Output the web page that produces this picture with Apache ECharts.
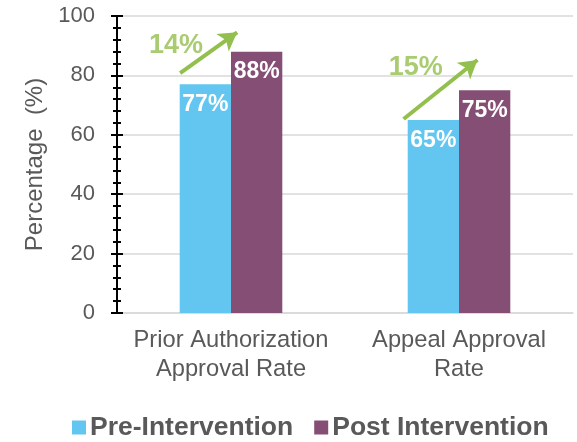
<!DOCTYPE html>
<html>
<head>
<meta charset="utf-8">
<script src="https://cdn.jsdelivr.net/npm/echarts@6/dist/echarts.min.js"></script>
<style>html,body{margin:0;padding:0;background:#fff}#c{width:577px;height:442px}</style>
</head>
<body>
<div id="c"></div>
<script>
var categories = ['Prior Authorization\nApproval Rate', 'Appeal Approval\nRate'];
var preValues = [77, 65];
var postValues = [88, 75];
var seriesNames = ['Pre-Intervention', 'Post Intervention'];
var yTicks = [0, 20, 40, 60, 80, 100];
// change annotations (arrow start/end in [category position, percentage])
var changeLabels = ['14%', '15%'];
var arrowStart = [[0.277, 80.8], [1.257, 65.3]];
var arrowEnd = [[0.527, 94.5], [1.581, 85.2]];
var changeLabelPos = [[0.259, 90.2], [1.31, 82.5]];

var FONT = 'Liberation Sans, Arial, sans-serif';
var GRAY = '#595959';
var GREEN = '#93bf4f';

var chart = echarts.init(document.getElementById('c'), null, {renderer: 'canvas'});
var arrowLines = arrowStart.map(function (s, i) {
  return [{coord: s}, {coord: arrowEnd[i]}];
});
var option = {
  animation: false,
  grid: {left: 117, right: 4, top: 16, bottom: 129, containLabel: false},
  legend: {
    bottom: 1, left: 72, padding: 0,
    itemWidth: 14, itemHeight: 14, itemGap: 21,
    icon: 'rect',
    textStyle: {fontFamily: FONT, fontSize: 26.5, fontWeight: 'bold', color: GRAY, padding: [0, 0, 0, -1]},
    data: seriesNames
  },
  xAxis: [{
    type: 'category', data: categories,
    axisLine: {show: true, lineStyle: {color: '#d9d9d9', width: 1.5}},
    axisTick: {show: false},
    axisLabel: {interval: 0, fontFamily: FONT, fontSize: 23.7, color: GRAY, lineHeight: 29, margin: 13}
  }, {
    type: 'value', min: 0, max: 2, show: false
  }],
  yAxis: [{
    type: 'value', min: 0, max: 100, interval: 20,
    name: 'Percentage  (%)', nameLocation: 'middle', nameGap: 69,
    nameTextStyle: {fontFamily: FONT, fontSize: 24, color: GRAY},
    axisLine: {show: true, lineStyle: {color: '#000', width: 2}},
    axisTick: {show: true, inside: false, length: 6, lineStyle: {color: '#000', width: 2}},
    minorTick: {show: true, splitNumber: 5, length: 4, lineStyle: {color: '#000', width: 2}},
    axisLabel: {fontFamily: FONT, fontSize: 22, color: GRAY, margin: 22},
    splitLine: {show: true, lineStyle: {color: '#d9d9d9', width: 1.5}}
  }, {
    type: 'value', min: 0, max: 100, interval: 20, position: 'left',
    axisLine: {show: false},
    axisTick: {show: true, inside: true, length: 6, lineStyle: {color: '#000', width: 2}},
    minorTick: {show: true, splitNumber: 5, length: 4, lineStyle: {color: '#000', width: 2}},
    axisLabel: {show: false},
    splitLine: {show: false}
  }],
  series: [{
    name: seriesNames[0], type: 'bar', data: preValues,
    barGap: 0, barCategoryGap: '55%',
    itemStyle: {color: '#62c6f1'},
    label: {show: true, position: 'insideTop', distance: 9, formatter: '{c}%',
      fontFamily: FONT, fontSize: 23, fontWeight: 'bold', color: '#fff'}
  }, {
    name: seriesNames[1], type: 'bar', data: postValues,
    itemStyle: {color: '#854f75'},
    label: {show: true, position: 'insideTop', distance: 9, formatter: '{c}%',
      fontFamily: FONT, fontSize: 23, fontWeight: 'bold', color: '#fff'}
  }, {
    type: 'scatter', xAxisIndex: 1, yAxisIndex: 0,
    symbolSize: 0,
    data: changeLabelPos.map(function (p, i) { return {value: p, name: changeLabels[i]}; }),
    label: {show: true, position: 'inside', formatter: '{b}',
      fontFamily: FONT, fontSize: 27, fontWeight: 'bold', color: GREEN},
    markLine: {
      silent: true, symbol: ['none', 'arrow'], symbolSize: [16, 18],
      lineStyle: {color: GREEN, width: 4, type: 'solid'},
      label: {show: false},
      data: arrowLines
    },
    tooltip: {show: false}
  }]
};
chart.setOption(option);
</script>
</body>
</html>
